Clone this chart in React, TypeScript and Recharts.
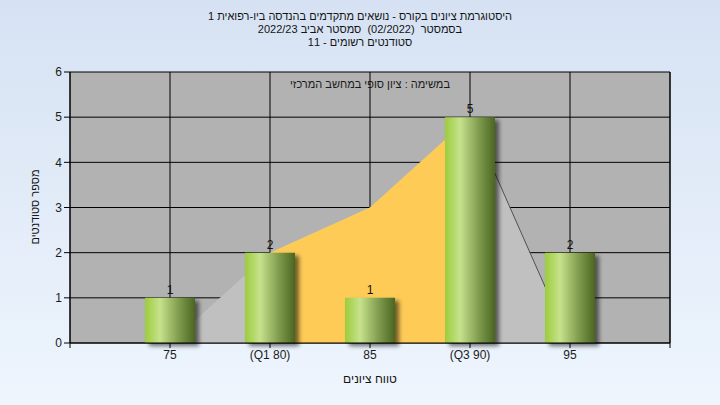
import { Area, Bar, CartesianGrid, ComposedChart, LabelList, XAxis, YAxis } from 'recharts';

const GRADES = [75, 80, 85, 90, 95];
const STUDENTS = [1, 2, 1, 5, 2];
const CURVE = [0, 2, 3, 5, 0];
const IQR = [null, 2, 3, 5, null];
const TAIL = [null, null, null, 5, 0];
const X_TICKS = [70, 75, 80, 85, 90, 95, 100];
const Y_TICKS = [0, 1, 2, 3, 4, 5, 6];
const TICK_NAMES: Record<number, string> = { 75: '75', 80: '(Q1 80)', 85: '85', 90: '(Q3 90)', 95: '95' };

const TITLE_LINES = [
  'היסטוגרמת ציונים בקורס - נושאים מתקדמים בהנדסה ביו-רפואית 1',
  'בסמסטר  (02/2022)  סמסטר אביב 2022/23',
  'סטודנטים רשומים - 11',
];
const SUBTITLE = 'במשימה : ציון סופי במחשב המרכזי';
const X_TITLE = 'טווח ציונים';
const Y_TITLE = 'מספר סטודנטים';

const FONT = '"Liberation Sans", "DejaVu Sans", sans-serif';

export default function App() {
  const data = GRADES.map((grade, i) => ({
    grade,
    students: STUDENTS[i],
    curve: CURVE[i],
    iqr: IQR[i],
    tail: TAIL[i],
  }));
  const tick = { fontSize: 12, fill: '#1b1b1b', fontFamily: FONT };

  return (
    <div
      style={{
        position: 'fixed',
        left: 0,
        top: 0,
        width: 720,
        height: 405,
        background: 'linear-gradient(180deg, #d6e2f3 0%, #eef5fd 100%)',
        fontFamily: FONT,
      }}
    >
      <div style={{ position: 'absolute', left: 0, top: 10, width: 720, textAlign: 'center', direction: 'rtl', fontSize: 11, lineHeight: '13px', color: '#141414' }}>
        {TITLE_LINES.map((line) => (
          <div key={line} style={{ whiteSpace: 'pre' }}>{line}</div>
        ))}
      </div>
      <ComposedChart width={720} height={405} data={data} margin={{ top: 72, right: 10, bottom: 32, left: 30 }}>
        <defs>
          <linearGradient id="barGrad" x1="0" y1="0" x2="1" y2="0">
            <stop offset="0%" stopColor="#9ccc3c" />
            <stop offset="30%" stopColor="#c6e28c" />
            <stop offset="65%" stopColor="#84a052" />
            <stop offset="100%" stopColor="#4a6620" />
          </linearGradient>
          <filter id="barShadow" x="-20%" y="-20%" width="150%" height="140%">
            <feDropShadow dx="4" dy="3" stdDeviation="2" floodColor="#000" floodOpacity="0.55" />
          </filter>
        </defs>
        <CartesianGrid yAxisId="left" stroke="#000" strokeWidth={1} fill="#b2b2b2" />
        <XAxis
          dataKey="grade"
          type="number"
          domain={[70, 100]}
          ticks={X_TICKS}
          tickFormatter={(v: number) => TICK_NAMES[v] ?? ''}
          tick={tick}
          tickSize={5}
          axisLine={{ stroke: '#000' }}
          tickLine={{ stroke: '#000' }}
          height={30}
        />
        <YAxis
          yAxisId="left"
          domain={[0, 6]}
          ticks={Y_TICKS}
          tick={tick}
          tickSize={6}
          width={40}
          axisLine={{ stroke: '#000' }}
          tickLine={{ stroke: '#000' }}
        />
        <YAxis
          yAxisId="right"
          orientation="right"
          domain={[0, 6]}
          ticks={Y_TICKS}
          tick={tick}
          tickSize={6}
          width={40}
          axisLine={{ stroke: '#000' }}
          tickLine={{ stroke: '#000' }}
        />
        <Area yAxisId="left" type="linear" dataKey="curve" stroke="none" fill="#c0c0c0" fillOpacity={1} isAnimationActive={false} />
        <Area yAxisId="left" type="linear" dataKey="iqr" stroke="none" fill="#fecb57" fillOpacity={1} isAnimationActive={false} />
        <Area yAxisId="left" type="linear" dataKey="tail" stroke="#505050" strokeWidth={1} fill="none" fillOpacity={0} isAnimationActive={false} />
        <Bar yAxisId="left" dataKey="students" barSize={50} fill="url(#barGrad)" filter="url(#barShadow)" isAnimationActive={false}>
          <LabelList dataKey="students" position="top" offset={4} style={{ fontSize: 12, fill: '#111', fontFamily: FONT }} />
        </Bar>
      </ComposedChart>
      <div style={{ position: 'absolute', left: 70, top: 78, width: 600, textAlign: 'center', direction: 'rtl', fontSize: 11, color: '#1a1a1a' }}>
        {SUBTITLE}
      </div>
      <div style={{ position: 'absolute', left: 270, top: 372, width: 200, textAlign: 'center', direction: 'rtl', fontSize: 12, color: '#141414' }}>
        {X_TITLE}
      </div>
      <div
        style={{
          position: 'absolute',
          left: 35,
          top: 207,
          width: 200,
          marginLeft: -100,
          marginTop: -8,
          textAlign: 'center',
          direction: 'rtl',
          fontSize: 11,
          lineHeight: '16px',
          color: '#141414',
          transform: 'rotate(-90deg)',
        }}
      >
        {Y_TITLE}
      </div>
    </div>
  );
}
